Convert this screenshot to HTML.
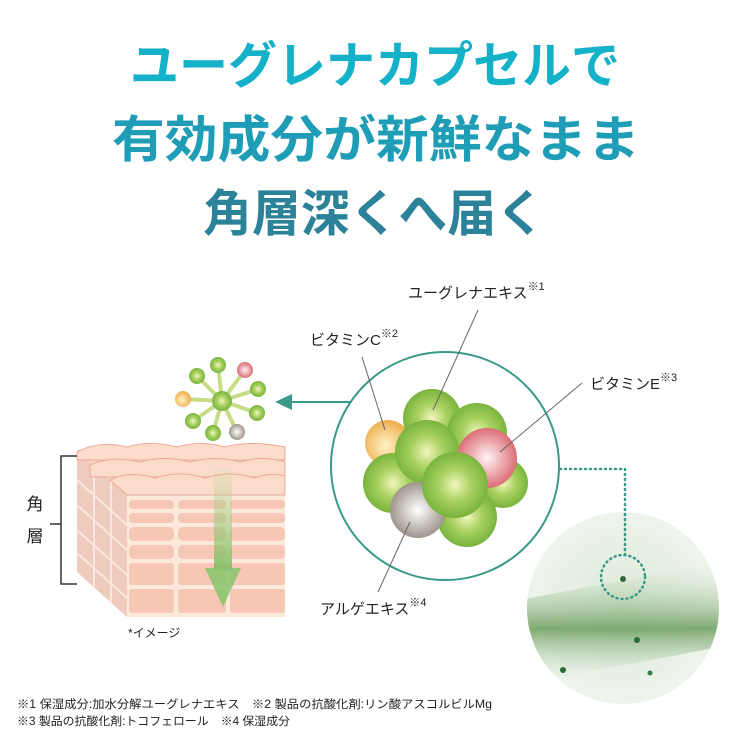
<!DOCTYPE html>
<html><head><meta charset="utf-8"><style>
html,body{margin:0;padding:0;background:#fff;}
svg{display:block;}
text{font-family:"Liberation Sans","Noto Sans CJK JP",sans-serif;}
</style></head><body>
<svg width="750" height="750" viewBox="0 0 750 750" xmlns="http://www.w3.org/2000/svg">
<defs>
<radialGradient id="g" cx="0.5" cy="0.5" r="0.55"><stop offset="0" stop-color="#f2f7c0"/><stop offset="0.45" stop-color="#a9d160"/><stop offset="1" stop-color="#6fae36"/></radialGradient>
<radialGradient id="o" cx="0.45" cy="0.55" r="0.55"><stop offset="0" stop-color="#fff3c8"/><stop offset="1" stop-color="#eeae4e"/></radialGradient>
<radialGradient id="p" cx="0.5" cy="0.5" r="0.55"><stop offset="0" stop-color="#fff4f4"/><stop offset="1" stop-color="#d9606a"/></radialGradient>
<radialGradient id="b" cx="0.5" cy="0.5" r="0.55"><stop offset="0" stop-color="#ffffff"/><stop offset="1" stop-color="#968a80"/></radialGradient>
<radialGradient id="photo" cx="0.5" cy="0.5" r="0.5"><stop offset="0" stop-color="#dbe9d7"/><stop offset="1" stop-color="#eef4ec"/></radialGradient>
<linearGradient id="band" x1="0" y1="0" x2="0" y2="1"><stop offset="0" stop-color="#e6efe3" stop-opacity="0"/><stop offset="0.55" stop-color="#6a9e5c"/><stop offset="1" stop-color="#e6efe3" stop-opacity="0"/></linearGradient>
<linearGradient id="arr" x1="0" y1="0" x2="0" y2="1"><stop offset="0" stop-color="#a8d48a" stop-opacity="0.1"/><stop offset="1" stop-color="#7fbf60" stop-opacity="0.9"/></linearGradient>
<clipPath id="pc"><circle cx="623" cy="608" r="96"/></clipPath>
</defs>

<text x="375" y="83" text-anchor="middle" font-size="50" font-weight="bold" fill="#14b1c8" textLength="490" lengthAdjust="spacingAndGlyphs">ユーグレナカプセルで</text>
<text x="376" y="157" text-anchor="middle" font-size="50" font-weight="bold" fill="#1f9db7" textLength="528" lengthAdjust="spacingAndGlyphs">有効成分が新鮮なまま</text>
<text x="374" y="231" text-anchor="middle" font-size="50" font-weight="bold" fill="#2c8298" textLength="342" lengthAdjust="spacingAndGlyphs">角層深くへ届く</text>

<polygon points="77,450 127,495 127,617 77,572" fill="#efcbbd"/>
<rect x="127" y="495" width="158" height="122" fill="#fbe9dc"/>
<g fill="#f6c7b5">
<rect x="129" y="500" width="45" height="9" rx="4"/><rect x="178" y="500" width="48" height="9" rx="4"/><rect x="230" y="500" width="55" height="9" rx="4"/>
<rect x="129" y="513" width="45" height="10" rx="4"/><rect x="178" y="513" width="48" height="10" rx="4"/><rect x="230" y="513" width="55" height="10" rx="4"/>
<rect x="129" y="527" width="45" height="14" rx="5"/><rect x="178" y="527" width="48" height="14" rx="5"/><rect x="230" y="527" width="55" height="14" rx="5"/>
<rect x="129" y="545" width="45" height="14" rx="5"/><rect x="178" y="545" width="48" height="14" rx="5"/><rect x="230" y="545" width="55" height="14" rx="5"/>
<rect x="129" y="563" width="45" height="22" rx="3"/><rect x="178" y="563" width="48" height="22" rx="3"/><rect x="230" y="563" width="55" height="22" rx="3"/>
<rect x="129" y="589" width="45" height="24" rx="3"/><rect x="178" y="589" width="48" height="24" rx="3"/><rect x="230" y="589" width="55" height="24" rx="3"/>
</g>
<g stroke="#fae8de" stroke-width="2">
<line x1="94" y1="465" x2="94" y2="588"/><line x1="111" y1="480" x2="111" y2="603"/>
<line x1="77" y1="480" x2="127" y2="525"/><line x1="77" y1="505" x2="127" y2="550"/><line x1="77" y1="530" x2="127" y2="575"/><line x1="77" y1="553" x2="127" y2="598"/>
</g>
<polygon points="77,450 127,449 285,449 285,495 127,495" fill="#f8d4c2"/>
<g fill="#fbdccb" stroke="#eea896" stroke-width="1">
<path d="M77,452 Q100,440 127,447 Q150,440 177,447 Q200,440 225,447 Q250,440 285,447 L285,460 L77,460Z"/>
<path d="M90,465 Q112,455 140,462 Q165,455 190,462 Q215,455 240,462 Q262,455 285,462 L285,477 L90,477Z"/>
<path d="M110,480 Q130,470 155,478 Q180,470 205,478 Q230,470 255,478 Q270,472 285,476 L285,495 L127,495Z"/>
</g>
<rect x="214" y="470" width="18" height="100" fill="url(#arr)"/>
<polygon points="205,568 241,568 223,607" fill="#86c46a" opacity="0.85"/>

<polyline points="77,456 61,456 61,584 77,584" fill="none" stroke="#333" stroke-width="1.5"/>
<line x1="50" y1="524" x2="61" y2="524" stroke="#333" stroke-width="1.5"/>
<text x="35" y="510" text-anchor="middle" font-size="17" fill="#222">角</text>
<text x="35" y="542" text-anchor="middle" font-size="17" fill="#222">層</text>
<text x="128" y="637" font-size="12" fill="#222">*イメージ</text>

<g stroke="#c6dd86" stroke-width="4">
<line x1="222" y1="401" x2="218" y2="365"/><line x1="222" y1="401" x2="245" y2="370"/><line x1="222" y1="401" x2="197" y2="376"/><line x1="222" y1="401" x2="258" y2="389"/><line x1="222" y1="401" x2="183" y2="399"/><line x1="222" y1="401" x2="257" y2="413"/><line x1="222" y1="401" x2="193" y2="421"/><line x1="222" y1="401" x2="213" y2="433"/><line x1="222" y1="401" x2="237" y2="432"/>
</g>
<circle cx="218" cy="365" r="8" fill="url(#g)"/><circle cx="245" cy="370" r="8" fill="url(#p)"/><circle cx="197" cy="376" r="8" fill="url(#g)"/><circle cx="258" cy="389" r="8" fill="url(#g)"/><circle cx="183" cy="399" r="8" fill="url(#o)"/><circle cx="257" cy="413" r="8" fill="url(#g)"/><circle cx="193" cy="421" r="8" fill="url(#g)"/><circle cx="213" cy="433" r="8" fill="url(#g)"/><circle cx="237" cy="432" r="8" fill="url(#b)"/><circle cx="222" cy="401" r="10" fill="url(#g)"/>

<line x1="290" y1="402" x2="356" y2="402" stroke="#3a9a8a" stroke-width="2"/>
<polygon points="275,402 292,394 292,410" fill="#3a9a8a"/>

<circle cx="445" cy="466" r="114" fill="#fff" stroke="#3a9a8a" stroke-width="2"/>
<circle cx="432" cy="418" r="29" fill="url(#g)"/>
<circle cx="388" cy="443" r="23" fill="url(#o)"/>
<circle cx="477" cy="433" r="30" fill="url(#g)"/>
<circle cx="503" cy="483" r="25" fill="url(#g)"/>
<circle cx="467" cy="517" r="30" fill="url(#g)"/>
<circle cx="393" cy="483" r="30" fill="url(#g)"/>
<circle cx="427" cy="452" r="32" fill="url(#g)"/>
<circle cx="487" cy="458" r="30" fill="url(#p)"/>
<circle cx="418" cy="510" r="28" fill="url(#b)"/>
<circle cx="455" cy="485" r="33" fill="url(#g)"/>

<g stroke="#666" stroke-width="1">
<line x1="478" y1="310" x2="433" y2="410"/>
<line x1="362" y1="357" x2="385" y2="430"/>
<line x1="582" y1="383" x2="500" y2="452"/>
<line x1="378" y1="592" x2="410" y2="522"/>
</g>
<text x="408" y="298" font-size="15" fill="#222">ユーグレナエキス<tspan font-size="11" dy="-8">※1</tspan></text>
<text x="310" y="345" font-size="15" fill="#222">ビタミンC<tspan font-size="11" dy="-8">※2</tspan></text>
<text x="590" y="389" font-size="15" fill="#222">ビタミンE<tspan font-size="11" dy="-8">※3</tspan></text>
<text x="320" y="614" font-size="15" fill="#222">アルゲエキス<tspan font-size="11" dy="-8">※4</tspan></text>

<circle cx="623" cy="608" r="96" fill="url(#photo)"/>
<g clip-path="url(#pc)">
<polygon points="520,600 730,560 730,645 520,685" fill="url(#band)" opacity="0.85"/>
<circle cx="623" cy="579" r="3" fill="#2f6b3a"/>
<circle cx="637" cy="640" r="3" fill="#2f6b3a"/>
<circle cx="563" cy="670" r="3" fill="#2f6b3a"/>
<circle cx="650" cy="673" r="2.5" fill="#3a7a45"/>
<circle cx="550" cy="618" r="3" fill="#9bbd9a" opacity="0.6"/>
</g>
<g fill="none" stroke="#3a9a8a" stroke-width="2.5" stroke-dasharray="1 4" stroke-linecap="round">
<polyline points="560,469 625,469 625,555"/>
<circle cx="623" cy="577" r="22"/>
</g>

<text x="17" y="708" font-size="11.5" fill="#222" textLength="475" lengthAdjust="spacingAndGlyphs">※1 保湿成分:加水分解ユーグレナエキス　※2 製品の抗酸化剤:リン酸アスコルビルMg</text>
<text x="17" y="725" font-size="11.5" fill="#222" textLength="273" lengthAdjust="spacingAndGlyphs">※3 製品の抗酸化剤:トコフェロール　※4 保湿成分</text>
</svg>
</body></html>
